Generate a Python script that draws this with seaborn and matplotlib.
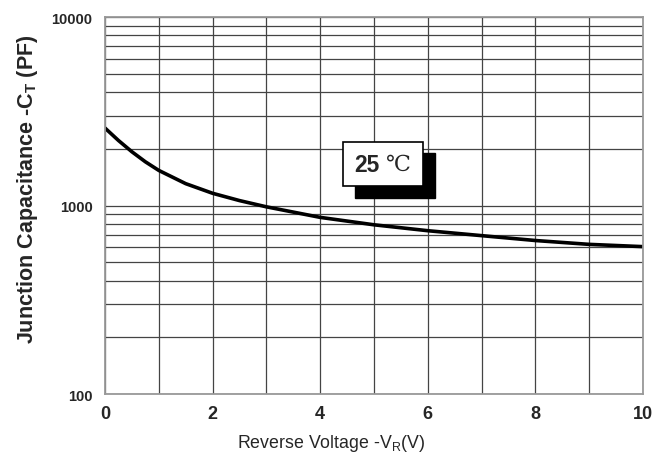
import numpy as np
import pandas as pd
import matplotlib
matplotlib.use("Agg")
import matplotlib.pyplot as plt
import seaborn as sns
from matplotlib.patches import Rectangle
from matplotlib.ticker import LogLocator, FixedLocator, NullFormatter

# Curve (reverse voltage in V, capacitance in pF)
voltage = [0, 0.25, 0.5, 0.75, 1, 1.5, 2, 2.5, 3, 4, 5, 6, 7, 8, 9, 10]
capacitance = [2576, 2213, 1928, 1706, 1535, 1306, 1161, 1062, 984,
               865, 790, 735, 692, 652, 622, 605]
x_ticks = [0, 2, 4, 6, 8, 10]
y_ticks = [100, 1000, 10000]

df = pd.DataFrame({"V": voltage, "C": capacitance})

sns.set_style("white")
plt.rcParams['font.family'] = ['Liberation Sans', 'DejaVu Sans']

fig = plt.figure(figsize=(6.7, 4.64), dpi=100)
ax = fig.add_axes([0.1567, 0.1487, 0.803, 0.8125])

sns.lineplot(data=df, x="V", y="C", ax=ax, color="black", linewidth=2.6)

ax.set_yscale("log")
ax.set_xlim(0, 10)
ax.set_ylim(100, 10000)

# grid: every volt vertically, 1-9 per decade horizontally
ax.xaxis.set_major_locator(FixedLocator(x_ticks))
ax.xaxis.set_minor_locator(FixedLocator(range(0, 11)))
ax.yaxis.set_major_locator(FixedLocator(y_ticks))
ax.yaxis.set_minor_locator(LogLocator(base=10, subs=range(2, 10)))
ax.yaxis.set_minor_formatter(NullFormatter())
ax.set_yticklabels([str(t) for t in y_ticks])
ax.grid(which="both", color="#444444", linewidth=0.9)
ax.tick_params(which="both", length=0)
ax.tick_params(axis="x", pad=8)
ax.tick_params(axis="y", pad=9)
for s in ax.spines.values():
    s.set_color("#999999")
    s.set_linewidth(1.3)

for lab in ax.get_xticklabels():
    lab.set_fontsize(13)
    lab.set_fontweight("bold")
for lab in ax.get_yticklabels():
    lab.set_fontsize(10.5)
    lab.set_fontweight("bold")

ax.set_xlabel("Reverse Voltage -V$_\\mathregular{R}$(V)", fontsize=12.8)
ax.set_ylabel("Junction Capacitance -C$_\\mathregular{T}$ (PF)", fontsize=15.5,
              fontweight="bold")
# labels sit off-centre in the original
ax.xaxis.set_label_coords(0.421, -0.101)
ax.yaxis.set_label_coords(-0.121, 0.545)

# temperature label box with drop shadow
ax.add_patch(Rectangle((0.465, 0.520), 0.148, 0.119, transform=ax.transAxes,
                       facecolor="black", edgecolor="black", zorder=5))
ax.add_patch(Rectangle((0.442, 0.552), 0.149, 0.116, transform=ax.transAxes,
                       facecolor="white", edgecolor="black", linewidth=1.2, zorder=6))
ax.text(0.464, 0.610, "25", transform=ax.transAxes, fontsize=16.5, fontweight="bold",
        ha="left", va="center", zorder=7)
ax.text(0.523, 0.610, "℃", transform=ax.transAxes, fontsize=16,
        family=['DejaVu Serif', 'DejaVu Sans'], ha="left", va="center", zorder=7)

fig.savefig("out.png", dpi=100)
